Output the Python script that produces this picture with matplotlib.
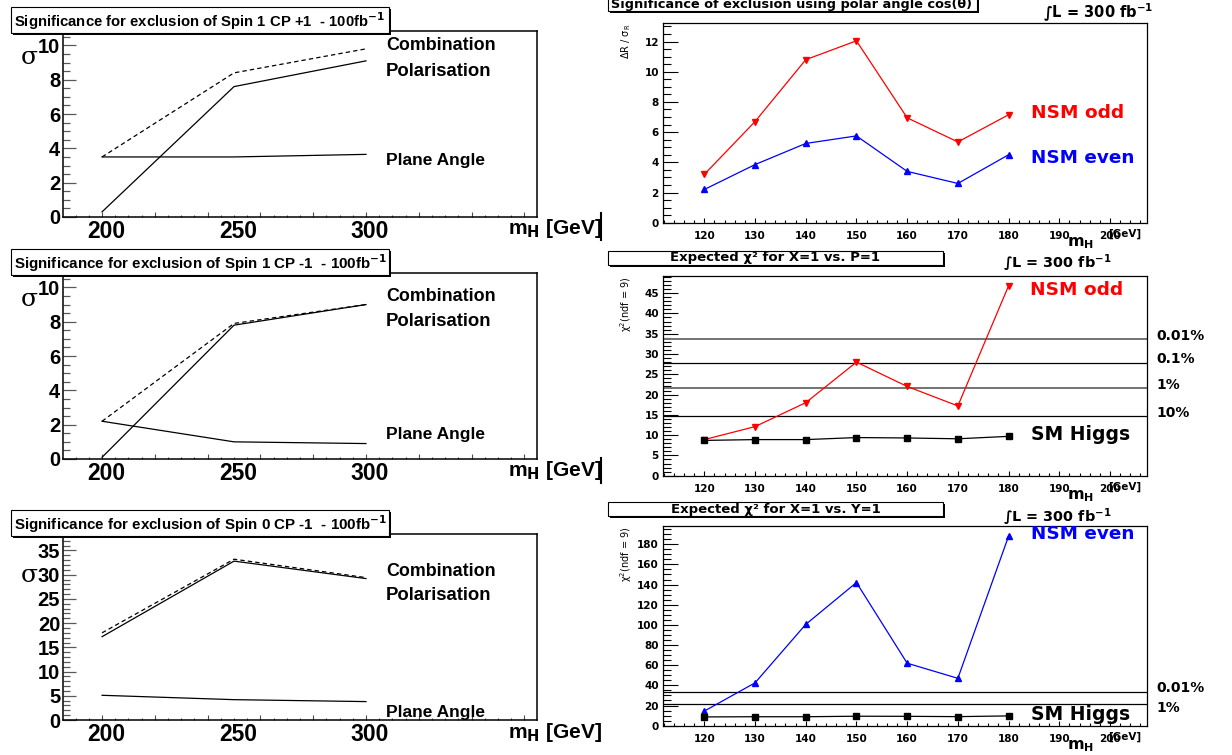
import matplotlib
matplotlib.use("Agg")
import matplotlib.pyplot as plt
from matplotlib import font_manager
from matplotlib.patches import Rectangle
from matplotlib.lines import Line2D
from matplotlib.ticker import MultipleLocator

W, H = 1232, 755

# left column: significance vs m_H (three spin/CP hypotheses)
mass_left = [200, 250, 300]
cp1p_comb = [3.5, 8.4, 9.8]
cp1p_pol = [0.3, 7.6, 9.1]
cp1p_plane = [3.5, 3.5, 3.65]
cp1m_comb = [2.2, 7.9, 9.0]
cp1m_pol = [0.1, 7.8, 9.0]
cp1m_plane = [2.2, 1.0, 0.9]
s0m_comb = [18.0, 33.2, 29.4]
s0m_pol = [17.2, 32.8, 29.2]
s0m_plane = [5.1, 4.2, 3.8]

# right column: NSM vs SM for m_H 120..180
mass_right = [120, 130, 140, 150, 160, 170, 180]
polar_odd = [3.2, 6.7, 10.8, 12.05, 6.95, 5.35, 7.15]
polar_even = [2.2, 3.85, 5.25, 5.75, 3.4, 2.6, 4.5]
chi2_odd = [8.9, 12.1, 18.0, 28.0, 22.0, 17.2, 46.8]
chi2_sm_p = [8.7, 8.9, 8.9, 9.4, 9.3, 9.1, 9.7]
chi2_even = [14.5, 42.5, 100.5, 142.0, 62.0, 47.0, 188.0]
chi2_sm_y = [8.7, 8.9, 8.9, 9.4, 9.3, 9.0, 9.7]
cut_values = [33.72, 27.88, 21.67, 14.68]
cut_labels = ['0.01%', '0.1%', '1%', '10%']

names = {f.name for f in font_manager.fontManager.ttflist}
NARROW = 'Liberation Sans Narrow' if 'Liberation Sans Narrow' in names else 'Liberation Sans'
WIDE = 'DejaVu Sans'

plt.rcParams['mathtext.fontset'] = 'custom'
plt.rcParams['mathtext.rm'] = 'DejaVu Sans'
plt.rcParams['mathtext.bf'] = 'DejaVu Sans:bold'
plt.rcParams['mathtext.it'] = 'DejaVu Sans:italic'

fig = plt.figure(figsize=(W / 100, H / 100), dpi=100)
renderer = fig.canvas.get_renderer()


def box(l, t, r, b):
    return [l / W, 1 - b / H, (r - l) / W, (b - t) / H]


def label(x, y, s, width=None, **kw):
    t = fig.text(x / W, 1 - y / H, s, **kw)
    if width:
        w = t.get_window_extent(renderer).width
        t.set_fontsize(t.get_fontsize() * width / w)
    return t


def title_box(l, t, r, b, s, family, width, centered=False):
    fig.add_artist(Rectangle(((l + 2) / W, 1 - (b + 2) / H), (r - l) / W, (b - t) / H,
                             transform=fig.transFigure, fc='black', lw=0))
    fig.add_artist(Rectangle((l / W, 1 - b / H), (r - l) / W, (b - t) / H,
                             transform=fig.transFigure, fc='white', ec='black', lw=0.8))
    if centered:
        label((l + r) / 2, (t + b) / 2, s, width, family=family, weight='bold',
              ha='center', va='center', fontsize=10, zorder=5)
    else:
        label(l + 3, (t + b) / 2 + 1, s, width, family=family, weight='bold',
              ha='left', va='center', fontsize=10, zorder=5)


def left_panel(off, ymax, ymaj, ymin, comb, pol, plane, title, ylab, sig_y):
    ax = fig.add_axes(box(63, 31 + off, 537, 217 + off))
    ax.plot(mass_left, comb, color='k', lw=0.9, ls=(0, (3.5, 2.5)))
    ax.plot(mass_left, pol, color='k', lw=0.9)
    ax.plot(mass_left, plane, color='k', lw=0.9)
    ax.set_xlim(185.2, 364.8)
    ax.set_ylim(0, ymax)
    ax.xaxis.set_major_locator(MultipleLocator(20))
    ax.xaxis.set_minor_locator(MultipleLocator(5))
    ax.yaxis.set_major_locator(MultipleLocator(ymaj))
    ax.yaxis.set_minor_locator(MultipleLocator(ymin))
    ax.tick_params(axis='x', which='major', direction='in', length=3.6, width=0.8,
                   color='0.3', labelbottom=False)
    ax.tick_params(axis='x', which='minor', direction='in', length=1.8, width=0.8, color='0.3')
    ax.tick_params(axis='y', which='major', direction='in', length=9.4, width=0.9,
                   color='0.35', pad=2)
    ax.tick_params(axis='y', which='minor', direction='in', length=5, width=0.9, color='0.35')
    for t in ax.get_yticklabels():
        t.set_family(NARROW)
        t.set_weight('bold')
        t.set_fontsize(14.5)
    for s in ax.spines.values():
        s.set_linewidth(1.1)
    for m in mass_left:
        ax.text(m + 1.5, -0.08, str(m), transform=ax.get_xaxis_transform(),
                ha='center', va='center', family=NARROW, weight='bold', fontsize=16.5)
    label(29, sig_y, 'σ', family='DejaVu Serif', fontsize=18, ha='center', va='center')
    label(508, 229 + off, 'm$_\\mathbf{H}$ [GeV]', width=95, family=NARROW,
          weight='bold', fontsize=15, ha='left', va='center')
    label(386, 46 + off + ylab[0], 'Combination', width=109, family=NARROW,
          weight='bold', fontsize=13, ha='left', va='center')
    label(386, 71 + off + ylab[0], 'Polarisation', width=106, family=NARROW,
          weight='bold', fontsize=13, ha='left', va='center')
    label(386, 161 + off + ylab[1], 'Plane Angle', width=99, family=NARROW,
          weight='bold', fontsize=13, ha='left', va='center')
    title_box(11, 7 + off, 389, 33 + off, title, NARROW, 372)
    return ax


def right_panel(top, ymax, ymaj, ymin, ylabel):
    ax = fig.add_axes(box(663, top, 1147, top + 200))
    ax.set_xlim(111.85, 207.3)
    ax.set_ylim(0, ymax)
    ax.xaxis.set_major_locator(MultipleLocator(10))
    ax.xaxis.set_minor_locator(MultipleLocator(2))
    ax.yaxis.set_major_locator(MultipleLocator(ymaj))
    ax.yaxis.set_minor_locator(MultipleLocator(ymin))
    ax.tick_params(axis='x', which='major', direction='in', length=3.6, width=0.8, pad=6)
    ax.tick_params(axis='x', which='minor', direction='in', length=2, width=0.8)
    ax.tick_params(axis='y', which='major', direction='in', length=10.5, width=0.8, pad=3)
    ax.tick_params(axis='y', which='minor', direction='in', length=5.6, width=0.8)
    ax.set_xticks([120, 130, 140, 150, 160, 170, 180, 190, 200])
    for t in ax.get_xticklabels() + ax.get_yticklabels():
        t.set_family(WIDE)
        t.set_weight('bold')
        t.set_fontsize(7.5)
    for s in ax.spines.values():
        s.set_linewidth(0.9)
    label(626, top + 1, ylabel, family=WIDE, fontsize=7,
          rotation=90, ha='center', va='top')
    label(1067, top + 220, 'm$_\\mathbf{H}$', family=WIDE, weight='bold',
          fontsize=11.5, ha='left', va='center')
    label(1108, top + 211, '[GeV]', family=WIDE, weight='bold',
          fontsize=7.5, ha='left', va='center')
    return ax


# ---- left column ----
left_panel(0, 10.84, 2, 0.5, cp1p_comb, cp1p_pol, cp1p_plane,
           'Significance for exclusion of Spin 1 CP +1  - 100fb$^{\\mathbf{-1}}$', (0, 0), 57)
left_panel(242, 10.84, 2, 0.5, cp1m_comb, cp1m_pol, cp1m_plane,
           'Significance for exclusion of Spin 1 CP -1  - 100fb$^{\\mathbf{-1}}$', (8, 32), 299)
left_panel(503, 38.4, 5, 1, s0m_comb, s0m_pol, s0m_plane,
           'Significance for exclusion of Spin 0 CP -1  - 100fb$^{\\mathbf{-1}}$', (22, 49), 576)

# ---- right top: polar angle ----
ax = right_panel(22.7, 13.25, 2, 0.5, 'ΔR / σ$_\\mathregular{R}$')
ax.plot(mass_right, polar_odd, color='red', lw=0.9, marker='v', ms=5)
ax.plot(mass_right, polar_even, color='blue', lw=0.9, marker='^', ms=5)
label(1031, 113, 'NSM odd', width=92, family=WIDE, weight='bold', color='red',
      fontsize=11, ha='left', va='center')
label(1031, 158, 'NSM even', width=103, family=WIDE, weight='bold', color='blue',
      fontsize=11, ha='left', va='center')
title_box(608, -4, 977, 11, 'Significance of exclusion using polar angle cos(θ)', WIDE, 360)
label(1043, 13, '∫L = 300 fb$^{\\mathbf{-1}}$', width=110, family=WIDE, weight='bold',
      fontsize=11, ha='left', va='center')

# ---- right middle: chi2 X=1 vs P=1 ----
ax = right_panel(275.7, 49.3, 5, 1, 'χ$^{2}$(ndf = 9)')
for v, c in zip(cut_values, ['0.45', 'k', '0.45', 'k']):
    ax.axhline(v, color=c, lw=1.4 if c != 'k' else 0.9)
ax.plot(mass_right, chi2_odd, color='red', lw=0.9, marker='v', ms=5)
ax.plot(mass_right, chi2_sm_p, color='k', lw=0.9, marker='s', ms=4.5)
for v, s in zip(cut_values, cut_labels):
    ax.text(1.02, v + 0.8, s, transform=ax.get_yaxis_transform(), family=WIDE,
            weight='bold', fontsize=10, ha='left', va='center')
label(1030, 290, 'NSM odd', width=92, family=WIDE, weight='bold', color='red',
      fontsize=11, ha='left', va='center')
label(1031, 435, 'SM Higgs', width=98, family=WIDE, weight='bold',
      fontsize=11, ha='left', va='center')
title_box(608, 251, 943, 265, 'Expected χ² for X=1 vs. P=1', WIDE, 210, centered=True)
label(1003, 263, '∫L = 300 fb$^{\\mathbf{-1}}$', width=108, family=WIDE, weight='bold',
      fontsize=11, ha='left', va='center')

# ---- right bottom: chi2 X=1 vs Y=1 ----
ax = right_panel(525.7, 198.4, 20, 5, 'χ$^{2}$(ndf = 9)')
for v in [cut_values[0], cut_values[2]]:
    ax.axhline(v, color='k', lw=0.9)
ax.plot(mass_right, chi2_even, color='blue', lw=0.9, marker='^', ms=5)
ax.plot(mass_right, chi2_sm_y, color='k', lw=0.9, marker='s', ms=4.5)
ax.text(1.02, cut_values[0] + 4, cut_labels[0], transform=ax.get_yaxis_transform(),
        family=WIDE, weight='bold', fontsize=10, ha='left', va='center')
ax.text(1.02, cut_values[2] - 4, cut_labels[2], transform=ax.get_yaxis_transform(),
        family=WIDE, weight='bold', fontsize=10, ha='left', va='center')
label(1031, 534, 'NSM even', width=103, family=WIDE, weight='bold', color='blue',
      fontsize=11, ha='left', va='center')
label(1031, 715, 'SM Higgs', width=98, family=WIDE, weight='bold',
      fontsize=11, ha='left', va='center')
title_box(608, 502, 943, 516, 'Expected χ² for X=1 vs. Y=1', WIDE, 210, centered=True)
label(1003, 517, '∫L = 300 fb$^{\\mathbf{-1}}$', width=108, family=WIDE, weight='bold',
      fontsize=11, ha='left', va='center')

# stray frame edges at the column border
fig.add_artist(Line2D([600.8 / W] * 2, [1 - 213 / H, 1 - 240 / H], color='k', lw=1.5))
fig.add_artist(Line2D([600.8 / W] * 2, [1 - 458 / H, 1 - 483 / H], color='k', lw=1.5))

fig.savefig('out.png', dpi=100)
